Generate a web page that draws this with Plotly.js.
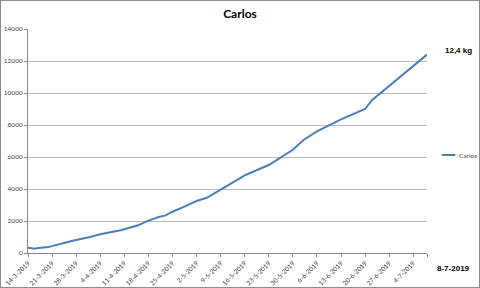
<!DOCTYPE html>
<html><head><meta charset="utf-8">
<script src="https://cdn.plot.ly/plotly-3.0.1.min.js"></script>
<style>html,body{margin:0;padding:0;background:#fff}#c{width:480px;height:288px;box-sizing:border-box;border:1px solid #8c8c8c}</style>
</head><body><div id="c"></div>
<script>
var dates = ["2019-03-14","2019-03-15","2019-03-16","2019-03-17","2019-03-18","2019-03-19","2019-03-20","2019-03-21",
 "2019-03-23","2019-03-25","2019-03-27","2019-03-28","2019-03-30","2019-04-01","2019-04-04","2019-04-06","2019-04-08",
 "2019-04-10","2019-04-11","2019-04-13","2019-04-15","2019-04-18","2019-04-21","2019-04-23","2019-04-25","2019-04-28",
 "2019-05-02","2019-05-05","2019-05-09","2019-05-16","2019-05-23","2019-05-30","2019-06-02","2019-06-06","2019-06-13",
 "2019-06-20","2019-06-22","2019-07-08"];
var grams = [330,310,270,320,330,360,380,430,
 560,660,760,800,900,1000,1170,1280,1350,
 1420,1480,1620,1730,2020,2250,2350,2580,2850,
 3250,3450,3950,4850,5500,6450,7050,7600,8350,
 9000,9550,12400];
var tickDates = ["2019-03-14","2019-03-21","2019-03-28","2019-04-04","2019-04-11","2019-04-18","2019-04-25","2019-05-02",
 "2019-05-09","2019-05-16","2019-05-23","2019-05-30","2019-06-06","2019-06-13","2019-06-20","2019-06-27","2019-07-04","2019-07-08"];
var tickLabels = ["14-3-2019","21-3-2019","28-3-2019","4-4-2019","11-4-2019","18-4-2019","25-4-2019","2-5-2019",
 "9-5-2019","16-5-2019","23-5-2019","30-5-2019","6-6-2019","13-6-2019","20-6-2019","27-6-2019","4-7-2019",""];
var seriesName = "Carlos";
var endLabel = "8-7-2019";
var totalLabel = "12,4 kg";

var font = "Lato, 'Liberation Sans', sans-serif";
var boldFont = "'Liberation Sans', Arial, sans-serif";
var lineColor = "#4a7ebb";
Plotly.newPlot("c", [{
  x: dates, y: grams, type: "scatter", mode: "lines", name: seriesName,
  line: {color: lineColor, width: 2}
}], {
  width: 478, height: 286,
  margin: {l: 27, r: 52, t: 28, b: 34, autoexpand: false},
  paper_bgcolor: "#fff", plot_bgcolor: "#fff",
  title: {text: "<b>" + seriesName + "</b>", x: 0.5, xanchor: "center", y: 0.955, yanchor: "middle",
          font: {family: font, size: 12, color: "#000"}},
  font: {family: font, color: "#444"},
  xaxis: {type: "date", range: ["2019-03-14", "2019-07-08"], tickmode: "array", tickvals: tickDates, ticktext: tickLabels,
          tickangle: -45, tickfont: {size: 6.5, color: "#444"}, ticks: "outside", ticklen: 3, tickcolor: "#888",
          showgrid: false, showline: true, linecolor: "#888", linewidth: 1, zeroline: false, fixedrange: true,
          automargin: false, ticklabeloverflow: "allow"},
  yaxis: {range: [0, 14000], dtick: 2000, tick0: 0, tickfont: {size: 6.5, color: "#444"}, ticks: "outside", ticklen: 3,
          tickcolor: "#888", showgrid: true, gridcolor: "#bcbcbc", gridwidth: 1, showline: true, linecolor: "#888",
          zeroline: false, tickformat: "d", fixedrange: true, automargin: false},
  showlegend: false,
  shapes: [
    {type: "line", xref: "paper", yref: "paper", x0: 1.037, x1: 1.071, y0: 0.4375, y1: 0.4375,
     line: {color: lineColor, width: 2}}
  ],
  annotations: [
    {xref: "paper", yref: "paper", x: 1.074, y: 0.4375, xanchor: "left", yanchor: "middle", showarrow: false,
     text: seriesName, font: {family: font, size: 6.5, color: "#444"}},
    {xref: "paper", yref: "paper", x: 1.04, y: 0.903, xanchor: "left", yanchor: "middle", showarrow: false,
     text: "<b>" + totalLabel + "</b>", font: {family: boldFont, size: 8, color: "#000"}},
    {xref: "paper", yref: "paper", x: 1.02, y: -0.0714, xanchor: "left", yanchor: "middle", showarrow: false,
     text: "<b>" + endLabel + "</b>", font: {family: boldFont, size: 8, color: "#000"}}
  ]
}, {displayModeBar: false, staticPlot: true});
</script></body></html>
